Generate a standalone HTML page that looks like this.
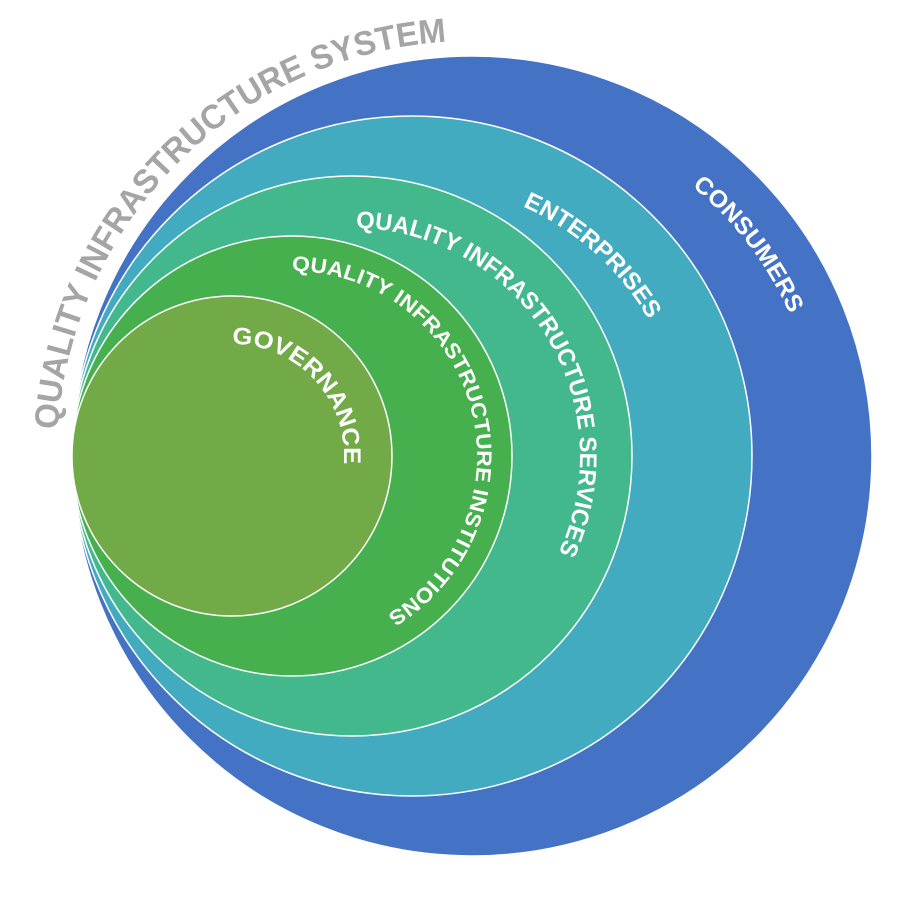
<!DOCTYPE html>
<html><head><meta charset="utf-8"><style>
html,body{margin:0;padding:0;background:#fff;}
svg{display:block;}
text{font-family:"Liberation Sans",sans-serif;font-weight:bold;fill:#fff;}
</style></head><body>
<svg width="904" height="904" viewBox="0 0 904 904" xmlns="http://www.w3.org/2000/svg">
<defs>
<path id="pT" d="M472,871 A415,415 0 1 1 472,41 A415,415 0 1 1 472,871"/>
<path id="pC" d="M472,108 A348,348 0 1 1 472,804 A348,348 0 1 1 472,108"/>
<path id="pE" d="M412,183 A273,273 0 1 1 412,729 A273,273 0 1 1 412,183"/>
<path id="pS" d="M352,228 A228,228 0 1 1 352,684 A228,228 0 1 1 352,228"/>
<path id="pI" d="M292,271 A185,185 0 1 1 292,641 A185,185 0 1 1 292,271"/>
<path id="pG" d="M232,344 A112,112 0 1 1 232,568 A112,112 0 1 1 232,344"/>
</defs>
<circle cx="472" cy="456" r="400" fill="#4472C4" stroke="#fff" stroke-width="1.5"/>
<circle cx="412" cy="456" r="340" fill="#43ABC0" stroke="#fff" stroke-width="1.5"/>
<circle cx="352" cy="456" r="280" fill="#43B88C" stroke="#fff" stroke-width="1.5"/>
<circle cx="292" cy="456" r="220" fill="#46B04E" stroke="#fff" stroke-width="1.5"/>
<circle cx="232" cy="456" r="160" fill="#72AA48" stroke="#fff" stroke-width="1.5"/>
<text font-size="34" style="fill:#A5A5A5"><textPath href="#pT" startOffset="678" textLength="600" lengthAdjust="spacingAndGlyphs">QUALITY INFRASTRUCTURE SYSTEM</textPath></text>
<text font-size="24"><textPath href="#pC" startOffset="238" textLength="162" lengthAdjust="spacingAndGlyphs">CONSUMERS</textPath></text>
<text font-size="24"><textPath href="#pE" startOffset="114" textLength="172" lengthAdjust="spacingAndGlyphs">ENTERPRISES</textPath></text>
<text font-size="24"><textPath href="#pS" startOffset="4" textLength="454" lengthAdjust="spacingAndGlyphs">QUALITY INFRASTRUCTURE SERVICES</textPath></text>
<text font-size="21"><textPath href="#pI" startOffset="0" textLength="481" lengthAdjust="spacingAndGlyphs">QUALITY INFRASTRUCTURE INSTITUTIONS</textPath></text>
<text font-size="24"><textPath href="#pG" startOffset="0" textLength="184" lengthAdjust="spacingAndGlyphs">GOVERNANCE</textPath></text>
</svg>
</body></html>
